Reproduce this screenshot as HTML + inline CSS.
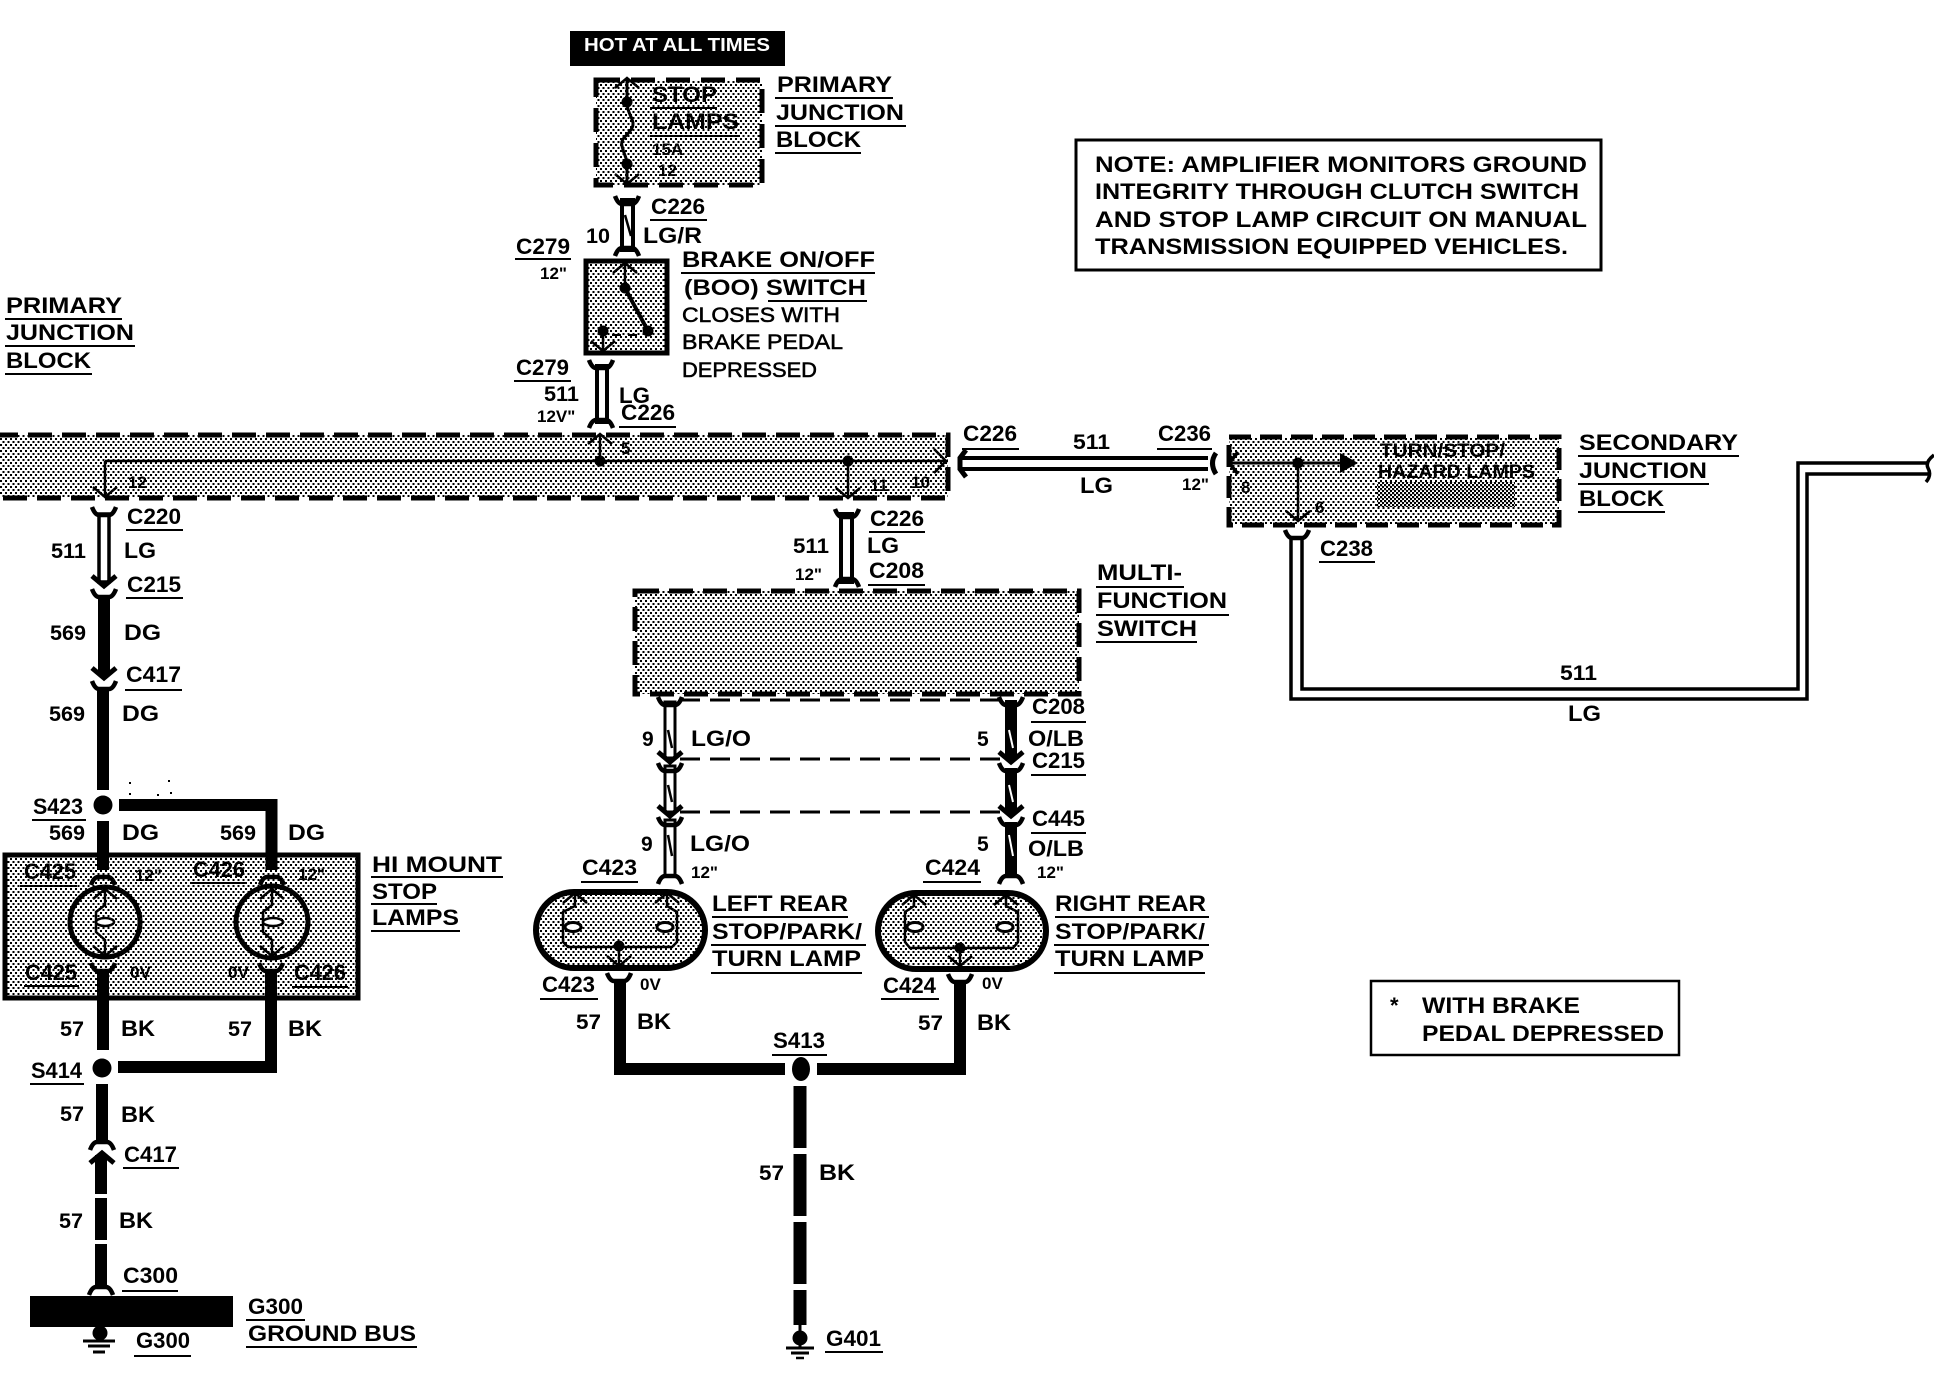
<!DOCTYPE html>
<html><head><meta charset="utf-8"><title>Stop lamp wiring diagram</title>
<style>
html,body{margin:0;padding:0;background:#fff}
svg{display:block}
text{font-family:"Liberation Sans",sans-serif;fill:#000}
.b{font-size:22px;font-weight:bold}
.m{font-size:21px;font-weight:normal;stroke:#000;stroke-width:.55}
.n{font-size:21px;font-weight:bold}
.s{font-size:17px;font-weight:bold}
.w{font-size:18px;font-weight:bold;fill:#fff}
.u{stroke:#000;stroke-width:2;fill:none}
.k{stroke:#000;fill:none}
</style></head><body>
<svg width="1934" height="1376" viewBox="0 0 1934 1376" xmlns="http://www.w3.org/2000/svg">
<defs>
<pattern id="st" width="5" height="6" patternUnits="userSpaceOnUse"><rect width="5" height="6" fill="#fff"/><rect x="0" y="0" width="2" height="2" fill="#000"/><rect x="2.5" y="3" width="2" height="2" fill="#000"/></pattern>
<pattern id="st2" width="4" height="4" patternUnits="userSpaceOnUse"><rect width="4" height="4" fill="#fff"/><rect x="0" y="0" width="2.2" height="2.2" fill="#000"/><rect x="2" y="2" width="2.2" height="2.2" fill="#000"/></pattern>
<path id="fu" d="M-12,-7 Q-9,1 -5,1 H5 Q9,1 12,-7" fill="none" stroke="#000" stroke-width="4.5"/>
<path id="fd" d="M-12,7 Q-9,-1 -5,-1 H5 Q9,-1 12,7" fill="none" stroke="#000" stroke-width="4.5"/>
<path id="md" d="M-12,-8 L0,2 L12,-8" fill="none" stroke="#000" stroke-width="5"/>
<path id="mu" d="M-12,8 L0,-2 L12,8" fill="none" stroke="#000" stroke-width="5"/>
<path id="au" d="M-12,10 L0,0 L12,10" fill="none" stroke="#000" stroke-width="2.5"/>
<path id="ad" d="M-12,-10 L0,0 L12,-10" fill="none" stroke="#000" stroke-width="2.5"/>
</defs>
<rect width="1934" height="1376" fill="#fff"/>

<!-- HOT -->
<rect x="570" y="31" width="215" height="35" fill="#000"/>
<text class="w" x="584" y="51" textLength="186" lengthAdjust="spacingAndGlyphs">HOT AT ALL TIMES</text>

<!-- top fuse block -->
<rect x="596" y="80" width="166" height="105" fill="url(#st)" stroke="#000" stroke-width="5" stroke-dasharray="24 11"/>
<path class="k" stroke-width="3" d="M627,78 V102 C627,115 636,120 632,128 C628,136 620,138 622,146 C624,155 627,158 627,164 V186"/>
<use href="#au" x="627" y="78"/><use href="#ad" x="627" y="184"/>
<circle cx="627" cy="102" r="5.5"/><circle cx="627" cy="164" r="5.5"/>
<text class="b" x="652" y="102" textLength="65" lengthAdjust="spacingAndGlyphs">STOP</text><line class="u" x1="650" y1="108" x2="717" y2="108"/>
<text class="b" x="652" y="129" textLength="87" lengthAdjust="spacingAndGlyphs">LAMPS</text><line class="u" x1="650" y1="136" x2="740" y2="136"/>
<text class="s" x="652" y="155">15A</text><text class="s" x="658" y="176">12</text>
<text class="b" x="777" y="92" textLength="115" lengthAdjust="spacingAndGlyphs">PRIMARY</text><line class="u" x1="775" y1="98" x2="893" y2="98"/>
<text class="b" x="776" y="120" textLength="128" lengthAdjust="spacingAndGlyphs">JUNCTION</text><line class="u" x1="775" y1="126" x2="906" y2="126"/>
<text class="b" x="776" y="147" textLength="85" lengthAdjust="spacingAndGlyphs">BLOCK</text><line class="u" x1="775" y1="153" x2="861" y2="153"/>

<!-- C226 upper wire -->
<rect x="622" y="200" width="11" height="50" fill="#fff" stroke="#000" stroke-width="4"/>
<line class="k" stroke-width="2.5" x1="625" y1="215" x2="631" y2="236"/>
<use href="#fu" x="627" y="203"/><use href="#fd" x="627" y="249"/>
<text class="b" x="651" y="214" textLength="54" lengthAdjust="spacingAndGlyphs">C226</text><line class="u" x1="650" y1="220" x2="707" y2="220"/>
<text class="n" x="586" y="243" textLength="24" lengthAdjust="spacingAndGlyphs">10</text>
<text class="b" x="643" y="243" textLength="59" lengthAdjust="spacingAndGlyphs">LG/R</text>
<text class="b" x="516" y="254" textLength="54" lengthAdjust="spacingAndGlyphs">C279</text><line class="u" x1="515" y1="259" x2="571" y2="259"/>
<text class="s" x="540" y="279">12"</text>

<!-- switch -->
<rect x="586" y="261" width="81" height="92" fill="url(#st)" stroke="#000" stroke-width="5"/>
<line class="k" stroke-width="2.5" x1="625" y1="263" x2="625" y2="288"/><use href="#au" x="625" y="263"/>
<circle cx="625" cy="288" r="5.5"/><line class="k" stroke-width="4" x1="625" y1="288" x2="648" y2="331"/><circle cx="648" cy="331" r="5.5"/>
<circle cx="603" cy="331" r="5.5"/><line class="k" stroke-width="2.5" x1="603" y1="331" x2="603" y2="351"/><use href="#ad" x="603" y="351"/>
<line class="k" stroke-width="2" stroke-dasharray="9 7" x1="612" y1="335" x2="644" y2="335"/>
<text class="b" x="682" y="267" textLength="193" lengthAdjust="spacingAndGlyphs">BRAKE ON/OFF</text><line class="u" x1="681" y1="273" x2="875" y2="273"/>
<text class="b" x="684" y="295" textLength="182" lengthAdjust="spacingAndGlyphs">(BOO) SWITCH</text><line class="u" x1="768" y1="301" x2="867" y2="301"/>
<text class="m" x="682" y="322" textLength="158" lengthAdjust="spacingAndGlyphs">CLOSES WITH</text>
<text class="m" x="682" y="349" textLength="161" lengthAdjust="spacingAndGlyphs">BRAKE PEDAL</text>
<text class="m" x="682" y="377" textLength="135" lengthAdjust="spacingAndGlyphs">DEPRESSED</text>
<text class="b" x="516" y="375" textLength="53" lengthAdjust="spacingAndGlyphs">C279</text><line class="u" x1="514" y1="381" x2="571" y2="381"/>
<text class="n" x="544" y="401" textLength="35" lengthAdjust="spacingAndGlyphs">511</text>
<text class="s" x="537" y="422">12V"</text>
<rect x="597" y="366" width="10" height="56" fill="#fff" stroke="#000" stroke-width="4"/>
<use href="#fu" x="601" y="367"/><use href="#fd" x="601" y="421"/>
<text class="b" x="619" y="403" textLength="31" lengthAdjust="spacingAndGlyphs">LG</text>
<text class="b" x="621" y="420" textLength="54" lengthAdjust="spacingAndGlyphs">C226</text><line class="u" x1="619" y1="427" x2="676" y2="427"/>

<!-- main junction block -->
<rect x="-6" y="435" width="954" height="63" fill="url(#st)" stroke="#000" stroke-width="5" stroke-dasharray="24 10"/>
<line class="k" stroke-width="2.5" x1="105" y1="461" x2="948" y2="461"/>
<line class="k" stroke-width="2.5" x1="105" y1="461" x2="105" y2="497"/>
<line class="k" stroke-width="2.5" x1="600" y1="434" x2="600" y2="461"/><use href="#au" x="600" y="434"/>
<line class="k" stroke-width="2.5" x1="848" y1="461" x2="848" y2="498"/><use href="#ad" x="848" y="498"/>
<use href="#ad" x="105" y="497"/>
<path class="k" stroke-width="2.5" d="M934,449 L946,461 L934,473"/>
<circle cx="600" cy="461" r="5.5"/><circle cx="848" cy="461" r="5.5"/>
<text class="s" x="621" y="454">5</text><text class="s" x="128" y="488">12</text>
<text class="s" x="870" y="491">11</text><text class="s" x="911" y="488">10</text>

<text class="b" x="6" y="313" textLength="116" lengthAdjust="spacingAndGlyphs">PRIMARY</text><line class="u" x1="5" y1="319" x2="122" y2="319"/>
<text class="b" x="6" y="340" textLength="128" lengthAdjust="spacingAndGlyphs">JUNCTION</text><line class="u" x1="5" y1="346" x2="135" y2="346"/>
<text class="b" x="6" y="368" textLength="85" lengthAdjust="spacingAndGlyphs">BLOCK</text><line class="u" x1="5" y1="374" x2="92" y2="374"/>

<!-- left column -->
<rect x="99" y="514" width="10" height="68" fill="#fff" stroke="#000" stroke-width="3.5"/>
<use href="#fu" x="104" y="514"/><use href="#md" x="104" y="584"/>
<text class="b" x="127" y="524" textLength="54" lengthAdjust="spacingAndGlyphs">C220</text><line class="u" x1="126" y1="530" x2="183" y2="530"/>
<text class="n" x="51" y="558" textLength="35" lengthAdjust="spacingAndGlyphs">511</text><text class="b" x="124" y="558" textLength="32" lengthAdjust="spacingAndGlyphs">LG</text>
<text class="b" x="127" y="592" textLength="54" lengthAdjust="spacingAndGlyphs">C215</text><line class="u" x1="126" y1="598" x2="183" y2="598"/>
<use href="#fu" x="104" y="596"/>
<line class="k" stroke-width="12" x1="104" y1="596" x2="104" y2="676"/><use href="#md" x="104" y="676"/>
<text class="n" x="50" y="640" textLength="36" lengthAdjust="spacingAndGlyphs">569</text><text class="b" x="124" y="640" textLength="37" lengthAdjust="spacingAndGlyphs">DG</text>
<text class="b" x="126" y="682" textLength="55" lengthAdjust="spacingAndGlyphs">C417</text><line class="u" x1="125" y1="690" x2="182" y2="690"/>
<use href="#fu" x="104" y="688"/>
<line class="k" stroke-width="12" x1="103" y1="688" x2="103" y2="790"/>
<text class="n" x="49" y="721" textLength="36" lengthAdjust="spacingAndGlyphs">569</text><text class="b" x="122" y="721" textLength="37" lengthAdjust="spacingAndGlyphs">DG</text>
<g fill="#000"><rect x="129" y="782" width="2" height="2"/><rect x="168" y="780" width="2" height="2"/><rect x="129" y="793" width="2" height="2"/><rect x="157" y="794" width="2" height="2"/><rect x="170" y="792" width="2" height="2"/></g>

<circle cx="103" cy="805" r="9.5"/>
<line class="k" stroke-width="12" x1="103" y1="821" x2="103" y2="875"/>
<path class="k" stroke-width="12" d="M119,805 H271.5 V875"/>
<text class="b" x="33" y="814" textLength="50" lengthAdjust="spacingAndGlyphs">S423</text><line class="u" x1="32" y1="820" x2="86" y2="820"/>
<text class="n" x="49" y="840" textLength="36" lengthAdjust="spacingAndGlyphs">569</text><text class="b" x="122" y="840" textLength="37" lengthAdjust="spacingAndGlyphs">DG</text>
<text class="n" x="220" y="840" textLength="36" lengthAdjust="spacingAndGlyphs">569</text><text class="b" x="288" y="840" textLength="37" lengthAdjust="spacingAndGlyphs">DG</text>

<!-- HI mount -->
<rect x="5" y="855" width="353" height="143" fill="url(#st)" stroke="#000" stroke-width="5"/>
<line class="k" stroke-width="12" x1="103" y1="853" x2="103" y2="870"/>
<line class="k" stroke-width="12" x1="271.5" y1="853" x2="271.5" y2="870"/>
<use href="#fd" x="103" y="878"/><use href="#fd" x="272" y="878"/>
<circle cx="105" cy="922" r="35" fill="url(#st)" stroke="#000" stroke-width="5"/>
<circle cx="272" cy="922" r="36" fill="url(#st)" stroke="#000" stroke-width="5"/>
<path class="k" stroke-width="2.5" d="M105,888 V905 L96,912 V932 L105,940 V955"/>
<path class="k" stroke-width="2.5" d="M272,888 V905 L263,912 V932 L272,940 V955"/>
<use href="#au" x="105" y="889"/><use href="#ad" x="105" y="956"/><use href="#au" x="272" y="889"/><use href="#ad" x="272" y="956"/>
<ellipse cx="105" cy="922" rx="9" ry="4" fill="#fff" stroke="#000" stroke-width="2.5"/>
<ellipse cx="273" cy="922" rx="10" ry="4" fill="#fff" stroke="#000" stroke-width="2.5"/>
<text class="b" x="24" y="879" textLength="52" lengthAdjust="spacingAndGlyphs">C425</text><line class="u" x1="20" y1="886" x2="77" y2="886"/>
<text class="s" x="135" y="881">12"</text>
<text class="b" x="193" y="877" textLength="52" lengthAdjust="spacingAndGlyphs">C426</text><line class="u" x1="190" y1="883" x2="247" y2="883"/>
<text class="s" x="298" y="880">12"</text>
<text class="b" x="25" y="980" textLength="52" lengthAdjust="spacingAndGlyphs">C425</text><line class="u" x1="24" y1="986" x2="79" y2="986"/>
<text class="s" x="130" y="978">0V</text><text class="s" x="228" y="978">0V</text>
<text class="b" x="294" y="980" textLength="52" lengthAdjust="spacingAndGlyphs">C426</text><line class="u" x1="292" y1="987" x2="348" y2="987"/>
<use href="#fu" x="103" y="970"/><use href="#fu" x="271" y="970"/>
<line class="k" stroke-width="12" x1="103" y1="970" x2="103" y2="1050"/>
<path class="k" stroke-width="12" d="M271,970 V1067 H118"/>
<text class="b" x="372" y="872" textLength="130" lengthAdjust="spacingAndGlyphs">HI MOUNT</text><line class="u" x1="371" y1="877" x2="503" y2="877"/>
<text class="b" x="372" y="899" textLength="65" lengthAdjust="spacingAndGlyphs">STOP</text><line class="u" x1="371" y1="904" x2="437" y2="904"/>
<text class="b" x="372" y="925" textLength="87" lengthAdjust="spacingAndGlyphs">LAMPS</text><line class="u" x1="371" y1="931" x2="460" y2="931"/>
<text class="n" x="60" y="1036" textLength="24" lengthAdjust="spacingAndGlyphs">57</text><text class="b" x="121" y="1036" textLength="34" lengthAdjust="spacingAndGlyphs">BK</text>
<text class="n" x="228" y="1036" textLength="24" lengthAdjust="spacingAndGlyphs">57</text><text class="b" x="288" y="1036" textLength="34" lengthAdjust="spacingAndGlyphs">BK</text>
<circle cx="102" cy="1068" r="9.5"/>
<text class="b" x="31" y="1078" textLength="51" lengthAdjust="spacingAndGlyphs">S414</text><line class="u" x1="30" y1="1084" x2="84" y2="1084"/>
<line class="k" stroke-width="12" x1="102" y1="1084" x2="102" y2="1140"/>
<use href="#fd" x="102" y="1143"/><use href="#mu" x="102" y="1155"/>
<line class="k" stroke-width="12" x1="101" y1="1155" x2="101" y2="1194"/>
<line class="k" stroke-width="12" x1="101" y1="1198" x2="101" y2="1240"/>
<line class="k" stroke-width="12" x1="101" y1="1244" x2="101" y2="1288"/>
<use href="#fd" x="101" y="1288"/>
<text class="n" x="60" y="1121" textLength="24" lengthAdjust="spacingAndGlyphs">57</text><text class="b" x="121" y="1122" textLength="34" lengthAdjust="spacingAndGlyphs">BK</text>
<text class="b" x="124" y="1162" textLength="53" lengthAdjust="spacingAndGlyphs">C417</text><line class="u" x1="123" y1="1168" x2="179" y2="1168"/>
<text class="n" x="59" y="1228" textLength="24" lengthAdjust="spacingAndGlyphs">57</text><text class="b" x="119" y="1228" textLength="34" lengthAdjust="spacingAndGlyphs">BK</text>
<text class="b" x="123" y="1283" textLength="55" lengthAdjust="spacingAndGlyphs">C300</text><line class="u" x1="122" y1="1291" x2="178" y2="1291"/>
<rect x="30" y="1296" width="203" height="31"/>
<text class="b" x="248" y="1314" textLength="55" lengthAdjust="spacingAndGlyphs">G300</text><line class="u" x1="246" y1="1320" x2="305" y2="1320"/>
<text class="b" x="248" y="1341" textLength="168" lengthAdjust="spacingAndGlyphs">GROUND BUS</text><line class="u" x1="246" y1="1347" x2="417" y2="1347"/>
<circle cx="100" cy="1333" r="7.5"/>
<line class="k" stroke-width="3" x1="83" y1="1341" x2="115" y2="1341"/><line class="k" stroke-width="3" x1="88" y1="1346" x2="110" y2="1346"/><line class="k" stroke-width="3" x1="93" y1="1352" x2="105" y2="1352"/>
<text class="b" x="136" y="1348" textLength="54" lengthAdjust="spacingAndGlyphs">G300</text><line class="u" x1="134" y1="1356" x2="191" y2="1356"/>

<!-- center -->
<rect x="841" y="514" width="11" height="68" fill="#fff" stroke="#000" stroke-width="4"/>
<use href="#fu" x="847" y="516"/>
<use href="#fd" x="847" y="580"/>
<text class="b" x="870" y="526" textLength="54" lengthAdjust="spacingAndGlyphs">C226</text><line class="u" x1="869" y1="532" x2="925" y2="532"/>
<text class="n" x="793" y="553" textLength="36" lengthAdjust="spacingAndGlyphs">511</text><text class="b" x="867" y="553" textLength="32" lengthAdjust="spacingAndGlyphs">LG</text>
<text class="s" x="795" y="580">12"</text>
<text class="b" x="869" y="578" textLength="55" lengthAdjust="spacingAndGlyphs">C208</text><line class="u" x1="868" y1="585" x2="925" y2="585"/>
<rect x="635" y="591" width="444" height="103" fill="url(#st)" stroke="#000" stroke-width="5" stroke-dasharray="24 10"/>
<text class="b" x="1097" y="580" textLength="85" lengthAdjust="spacingAndGlyphs">MULTI-</text><line class="u" x1="1096" y1="587" x2="1184" y2="587"/>
<text class="b" x="1097" y="608" textLength="130" lengthAdjust="spacingAndGlyphs">FUNCTION</text><line class="u" x1="1096" y1="615" x2="1229" y2="615"/>
<text class="b" x="1097" y="636" textLength="100" lengthAdjust="spacingAndGlyphs">SWITCH</text><line class="u" x1="1096" y1="642" x2="1197" y2="642"/>

<line class="k" stroke-width="3" stroke-dasharray="20 10" x1="680" y1="700" x2="1002" y2="700"/>
<line class="k" stroke-width="3" stroke-dasharray="20 10" x1="680" y1="759" x2="1002" y2="759"/>
<line class="k" stroke-width="3" stroke-dasharray="20 10" x1="680" y1="812" x2="1002" y2="812"/>
<rect x="665" y="702" width="10" height="56" fill="#fff" stroke="#000" stroke-width="3"/>
<rect x="665" y="766" width="10" height="46" fill="#fff" stroke="#000" stroke-width="3"/>
<rect x="665" y="820" width="10" height="56" fill="#fff" stroke="#000" stroke-width="3"/>
<line class="k" stroke-width="2.5" x1="668" y1="730" x2="672" y2="748"/>
<line class="k" stroke-width="2.5" x1="668" y1="785" x2="672" y2="802"/>
<line class="k" stroke-width="2.5" x1="668" y1="835" x2="672" y2="856"/>
<use href="#fu" x="670" y="704"/><use href="#md" x="670" y="760"/><use href="#fu" x="670" y="770"/><use href="#md" x="670" y="814"/><use href="#fu" x="670" y="824"/><use href="#fd" x="670" y="877"/>
<line class="k" stroke-width="12" x1="1011" y1="700" x2="1011" y2="760"/>
<line class="k" stroke-width="12" x1="1011" y1="768" x2="1011" y2="813"/>
<line class="k" stroke-width="12" x1="1011" y1="822" x2="1011" y2="878"/>
<line stroke="#fff" stroke-width="2" x1="1009" y1="730" x2="1013" y2="748"/>
<line stroke="#fff" stroke-width="2" x1="1009" y1="785" x2="1013" y2="802"/>
<line stroke="#fff" stroke-width="2" x1="1009" y1="835" x2="1013" y2="856"/>
<use href="#fu" x="1011" y="704"/><use href="#md" x="1011" y="760"/><use href="#fu" x="1011" y="770"/><use href="#md" x="1011" y="814"/><use href="#fu" x="1011" y="824"/><use href="#fd" x="1011" y="877"/>
<text class="n" x="642" y="746">9</text><text class="b" x="691" y="746" textLength="60" lengthAdjust="spacingAndGlyphs">LG/O</text>
<text class="n" x="977" y="746">5</text><text class="b" x="1028" y="746" textLength="56" lengthAdjust="spacingAndGlyphs">O/LB</text>
<text class="b" x="1032" y="714" textLength="53" lengthAdjust="spacingAndGlyphs">C208</text><line class="u" x1="1031" y1="722" x2="1086" y2="722"/>
<text class="b" x="1032" y="768" textLength="53" lengthAdjust="spacingAndGlyphs">C215</text><line class="u" x1="1031" y1="775" x2="1086" y2="775"/>
<text class="b" x="1032" y="826" textLength="53" lengthAdjust="spacingAndGlyphs">C445</text><line class="u" x1="1031" y1="833" x2="1086" y2="833"/>
<text class="n" x="641" y="851">9</text><text class="b" x="690" y="851" textLength="60" lengthAdjust="spacingAndGlyphs">LG/O</text>
<text class="n" x="977" y="851">5</text><text class="b" x="1028" y="856" textLength="56" lengthAdjust="spacingAndGlyphs">O/LB</text>
<text class="s" x="691" y="878">12"</text><text class="s" x="1037" y="878">12"</text>
<text class="b" x="582" y="875" textLength="55" lengthAdjust="spacingAndGlyphs">C423</text><line class="u" x1="581" y1="882" x2="638" y2="882"/>
<text class="b" x="925" y="875" textLength="55" lengthAdjust="spacingAndGlyphs">C424</text><line class="u" x1="923" y1="882" x2="981" y2="882"/>

<!-- rear lamps -->
<rect x="536" y="892" width="169" height="76" rx="38" fill="url(#st)" stroke="#000" stroke-width="6"/>
<rect x="878" y="893" width="168" height="76" rx="38" fill="url(#st)" stroke="#000" stroke-width="6"/>
<path class="k" stroke-width="2.5" d="M575,893 V906 L563,912 V942 L568,947 H672 L677,942 V912 L667,906 V893"/>
<path class="k" stroke-width="2.5" d="M914,895 V906 L905,912 V942 L910,948 H1013 L1018,942 V912 L1006,906 V895"/>
<line class="k" stroke-width="2.5" x1="619" y1="947" x2="619" y2="966"/><line class="k" stroke-width="2.5" x1="960" y1="948" x2="960" y2="966"/>
<use href="#au" x="575" y="893"/><use href="#au" x="667" y="893"/><use href="#au" x="914" y="895"/><use href="#au" x="1006" y="895"/>
<use href="#ad" x="619" y="966"/><use href="#ad" x="960" y="966"/>
<circle cx="619" cy="946" r="5.5"/><circle cx="960" cy="948" r="5.5"/>
<ellipse cx="573" cy="927" rx="8" ry="4.5" fill="#fff" stroke="#000" stroke-width="3"/><ellipse cx="665" cy="927" rx="8" ry="4.5" fill="#fff" stroke="#000" stroke-width="3"/>
<ellipse cx="915" cy="927" rx="8" ry="4.5" fill="#fff" stroke="#000" stroke-width="3"/><ellipse cx="1005" cy="927" rx="8" ry="4.5" fill="#fff" stroke="#000" stroke-width="3"/>
<text class="b" x="712" y="911" textLength="136" lengthAdjust="spacingAndGlyphs">LEFT REAR</text><line class="u" x1="712" y1="917" x2="848" y2="917"/>
<text class="b" x="712" y="939" textLength="150" lengthAdjust="spacingAndGlyphs">STOP/PARK/</text><line class="u" x1="711" y1="945" x2="866" y2="945"/>
<text class="b" x="712" y="966" textLength="149" lengthAdjust="spacingAndGlyphs">TURN LAMP</text><line class="u" x1="711" y1="973" x2="862" y2="973"/>
<text class="b" x="1055" y="911" textLength="151" lengthAdjust="spacingAndGlyphs">RIGHT REAR</text><line class="u" x1="1055" y1="917" x2="1209" y2="917"/>
<text class="b" x="1055" y="939" textLength="150" lengthAdjust="spacingAndGlyphs">STOP/PARK/</text><line class="u" x1="1054" y1="945" x2="1209" y2="945"/>
<text class="b" x="1055" y="966" textLength="149" lengthAdjust="spacingAndGlyphs">TURN LAMP</text><line class="u" x1="1054" y1="973" x2="1205" y2="973"/>
<text class="b" x="542" y="992" textLength="53" lengthAdjust="spacingAndGlyphs">C423</text><line class="u" x1="540" y1="999" x2="598" y2="999"/>
<text class="s" x="640" y="990">0V</text>
<text class="b" x="883" y="993" textLength="53" lengthAdjust="spacingAndGlyphs">C424</text><line class="u" x1="881" y1="999" x2="939" y2="999"/>
<text class="s" x="982" y="989">0V</text>
<use href="#fu" x="619" y="980"/><use href="#fu" x="960" y="981"/>
<path class="k" stroke-width="12" d="M620,980 V1069 H785"/>
<path class="k" stroke-width="12" d="M960,980 V1069 H817"/>
<ellipse cx="801" cy="1069" rx="9" ry="12"/>
<text class="n" x="576" y="1029" textLength="25" lengthAdjust="spacingAndGlyphs">57</text><text class="b" x="637" y="1029" textLength="34" lengthAdjust="spacingAndGlyphs">BK</text>
<text class="n" x="918" y="1030" textLength="25" lengthAdjust="spacingAndGlyphs">57</text><text class="b" x="977" y="1030" textLength="34" lengthAdjust="spacingAndGlyphs">BK</text>
<text class="b" x="773" y="1048" textLength="52" lengthAdjust="spacingAndGlyphs">S413</text><line class="u" x1="772" y1="1055" x2="827" y2="1055"/>
<line class="k" stroke-width="13" stroke-dasharray="62 6" x1="800" y1="1086" x2="800" y2="1325"/>
<text class="n" x="759" y="1180" textLength="25" lengthAdjust="spacingAndGlyphs">57</text><text class="b" x="819" y="1180" textLength="36" lengthAdjust="spacingAndGlyphs">BK</text>
<circle cx="800" cy="1338" r="7.5"/><line class="k" stroke-width="3" x1="800" y1="1325" x2="800" y2="1348"/>
<line class="k" stroke-width="3" x1="786" y1="1348" x2="814" y2="1348"/><line class="k" stroke-width="3" x1="791" y1="1353" x2="809" y2="1353"/><line class="k" stroke-width="2.5" x1="796" y1="1358" x2="804" y2="1358"/>
<text class="b" x="826" y="1346" textLength="55" lengthAdjust="spacingAndGlyphs">G401</text><line class="u" x1="825" y1="1352" x2="883" y2="1352"/>

<!-- right side -->
<line class="k" stroke-width="4" x1="960" y1="458" x2="1208" y2="458"/><line class="k" stroke-width="4" x1="960" y1="469" x2="1208" y2="469"/>
<path class="k" stroke-width="5" d="M966,450 L960,458 V469 L966,477"/>
<path class="k" stroke-width="5" d="M1216,453 Q1209,463 1216,474"/>
<text class="b" x="963" y="441" textLength="54" lengthAdjust="spacingAndGlyphs">C226</text><line class="u" x1="962" y1="449" x2="1019" y2="449"/>
<text class="n" x="1073" y="449" textLength="37" lengthAdjust="spacingAndGlyphs">511</text>
<text class="b" x="1158" y="441" textLength="53" lengthAdjust="spacingAndGlyphs">C236</text><line class="u" x1="1157" y1="449" x2="1212" y2="449"/>
<text class="b" x="1080" y="493" textLength="33" lengthAdjust="spacingAndGlyphs">LG</text><text class="s" x="1182" y="490">12"</text>

<rect x="1229" y="437" width="330" height="88" fill="url(#st)" stroke="#000" stroke-width="5" stroke-dasharray="22 9"/>
<rect x="1377" y="482" width="138" height="25" fill="url(#st2)"/>
<line class="k" stroke-width="3" x1="1229" y1="463" x2="1345" y2="463"/>
<path d="M1340,453 L1358,463 L1340,473 Z"/><path class="k" stroke-width="3.5" d="M1238,452 L1229,463 L1238,474"/>
<circle cx="1298" cy="463" r="5.5"/><line class="k" stroke-width="2.5" x1="1298" y1="463" x2="1298" y2="520"/><use href="#ad" x="1298" y="521"/>
<text class="s" x="1241" y="493">8</text><text class="s" x="1315" y="513">6</text>
<text x="1380" y="457" font-size="19" font-weight="bold" textLength="125" lengthAdjust="spacingAndGlyphs">TURN/STOP/</text>
<text x="1378" y="478" font-size="19" font-weight="bold" textLength="157" lengthAdjust="spacingAndGlyphs">HAZARD LAMPS</text>
<text class="b" x="1579" y="450" textLength="159" lengthAdjust="spacingAndGlyphs">SECONDARY</text><line class="u" x1="1578" y1="456" x2="1739" y2="456"/>
<text class="b" x="1579" y="478" textLength="128" lengthAdjust="spacingAndGlyphs">JUNCTION</text><line class="u" x1="1578" y1="484" x2="1709" y2="484"/>
<text class="b" x="1579" y="506" textLength="85" lengthAdjust="spacingAndGlyphs">BLOCK</text><line class="u" x1="1578" y1="512" x2="1665" y2="512"/>
<use href="#fu" x="1297" y="537"/>
<text class="b" x="1320" y="556" textLength="53" lengthAdjust="spacingAndGlyphs">C238</text><line class="u" x1="1319" y1="562" x2="1375" y2="562"/>
<path class="k" stroke-width="3.5" d="M1291,538 V699 H1807 V474 H1928"/>
<path class="k" stroke-width="3.5" d="M1302,538 V689 H1798 V463 H1928"/>
<path class="k" stroke-width="3.5" d="M1934,455 Q1925,462 1928,468 Q1932,475 1926,482"/>
<text class="n" x="1560" y="680" textLength="37" lengthAdjust="spacingAndGlyphs">511</text><text class="b" x="1568" y="721" textLength="33" lengthAdjust="spacingAndGlyphs">LG</text>

<!-- note -->
<rect x="1076" y="140" width="525" height="130" fill="#fff" stroke="#000" stroke-width="3"/>
<text class="b" x="1095" y="172" textLength="492" lengthAdjust="spacingAndGlyphs">NOTE: AMPLIFIER MONITORS GROUND</text>
<text class="b" x="1095" y="199" textLength="484" lengthAdjust="spacingAndGlyphs">INTEGRITY THROUGH CLUTCH SWITCH</text>
<text class="b" x="1095" y="227" textLength="492" lengthAdjust="spacingAndGlyphs">AND STOP LAMP CIRCUIT ON MANUAL</text>
<text class="b" x="1095" y="254" textLength="473" lengthAdjust="spacingAndGlyphs">TRANSMISSION EQUIPPED VEHICLES.</text>

<rect x="1371" y="981" width="308" height="74" fill="#fff" stroke="#000" stroke-width="2.5"/>
<text class="b" x="1390" y="1013">*</text>
<text class="b" x="1422" y="1013" textLength="158" lengthAdjust="spacingAndGlyphs">WITH BRAKE</text>
<text class="b" x="1422" y="1041" textLength="242" lengthAdjust="spacingAndGlyphs">PEDAL DEPRESSED</text>
</svg>
</body></html>
